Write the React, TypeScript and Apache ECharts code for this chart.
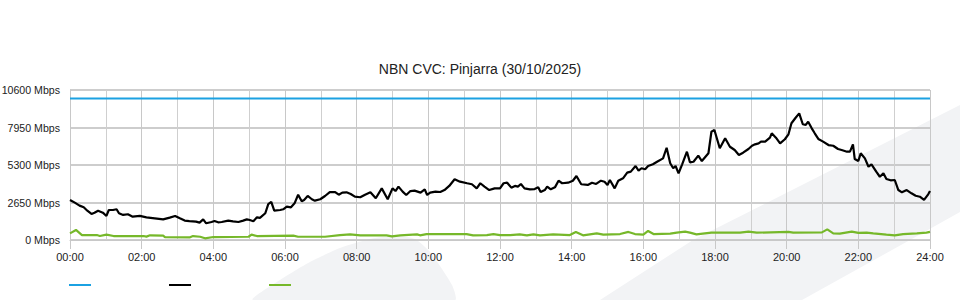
import React, { useEffect, useRef } from "react";
import * as echarts from "echarts";

const chartTitle = "NBN CVC: Pinjarra (30/10/2025)";
const yTicks = [0, 2650, 5300, 7950, 10600];
const capacityMinutes = [0, 1440];
const capacityMbps = [10000, 10000];

const dlMinutes = [0,8,16,23,29,36,41,47,55,61,65,72,78,82,89,97,105,117,128,142,156,167,176,184,192,200,211,217,223,228,237,242,248,254,265,273,282,290,296,301,307,313,318,327,332,337,342,352,357,363,370,376,382,388,392,398,405,410,419,427,435,444,450,456,463,470,477,486,494,503,512,522,532,540,545,550,557,563,570,577,587,594,598,603,612,620,627,635,644,653,665,673,681,687,694,702,711,720,726,732,739,745,750,755,761,770,778,784,788,795,799,805,812,818,824,834,842,848,856,867,874,881,889,895,900,904,912,918,926,933,939,947,952,957,963,968,976,983,993,999,1005,1010,1014,1019,1025,1033,1038,1044,1052,1058,1069,1074,1079,1088,1097,1105,1113,1120,1127,1136,1142,1147,1153,1157,1164,1172,1175,1182,1189,1197,1203,1208,1215,1221,1227,1232,1236,1242,1247,1253,1261,1270,1278,1286,1292,1301,1306,1311,1314,1320,1324,1331,1337,1342,1350,1356,1362,1367,1374,1381,1387,1393,1401,1409,1416,1423,1430,1437,1440];
const dlMbps = [2830,2640,2430,2310,2070,1840,1930,2070,1930,1700,2120,2120,2170,1890,1770,1820,1650,1700,1600,1530,1460,1580,1700,1530,1370,1340,1300,1230,1460,1180,1270,1340,1250,1270,1370,1320,1270,1370,1460,1410,1320,1600,1560,1890,2540,2690,2070,2120,2170,2360,2310,2590,3200,2740,2830,3110,2880,2780,2880,3110,3390,3390,3200,3350,3370,3250,3060,3020,3200,3370,2950,3650,2880,3650,3460,3770,3420,3180,3460,3490,3350,3580,3180,3350,3420,3390,3530,3820,4290,4120,4010,3940,3650,4010,3770,3530,3650,3650,4010,4050,3700,3820,3770,3960,3650,3580,3600,3720,3390,3530,3770,3580,3720,4190,4010,4050,4190,4520,3940,3890,4050,3960,4190,4120,3890,4240,3650,4190,4360,4760,4830,5230,4900,5070,5000,5230,5350,5530,5770,6520,5420,5070,5230,4710,5350,6240,5490,5530,5960,5580,6130,7650,7770,6480,7190,6590,6360,6010,6170,6430,6660,6760,6830,6950,6950,7230,7540,7230,6830,7120,7470,8250,8640,8950,8180,8130,8360,7890,7540,7140,6950,6710,6660,6430,6360,6240,6240,6760,5720,5580,6130,5770,5180,5350,4830,4470,4710,4310,4220,4240,3530,3370,3530,3300,3130,3060,2830,3230,3460];

const ulMinutes = [0,10,20,45,50,61,73,123,128,134,156,159,201,206,218,226,240,299,304,313,374,382,427,452,469,486,530,539,553,581,586,597,636,664,675,698,709,720,737,753,765,776,787,809,837,847,859,882,893,921,935,946,960,968,977,1005,1016,1030,1038,1049,1063,1074,1122,1136,1150,1203,1211,1259,1268,1278,1289,1309,1320,1334,1345,1367,1381,1395,1418,1434,1440];
const ulMbps = [470,710,350,350,280,380,280,280,240,330,310,210,190,280,230,120,210,230,380,280,310,230,230,350,400,330,330,260,330,400,330,420,420,420,330,350,420,350,350,400,330,400,330,400,350,570,330,470,380,420,570,420,380,640,420,450,520,590,520,400,470,520,520,590,520,570,520,540,750,470,450,590,500,520,470,380,330,420,470,520,570];

const seriesColors = ["#1ba1e2", "#000000", "#76b82a"];
const FONT = "'Liberation Sans', Arial, Helvetica, sans-serif";

const pairs = (xs: number[], ys: number[]) => xs.map((x, i) => [x, ys[i]]);

export default function App() {
  const ref = useRef<HTMLDivElement>(null);
  useEffect(() => {
    if (!ref.current) return;
    const chart = echarts.init(ref.current, null, { renderer: "svg" });
    const wm = "#f2f3f5";
    chart.setOption({
      animation: false,
      backgroundColor: "#ffffff",
      textStyle: { fontFamily: FONT },
      title: {
        text: chartTitle,
        left: "center",
        top: 57,
        textStyle: { fontSize: 14, fontWeight: "normal", color: "#222", fontFamily: FONT },
      },
      grid: { left: 70, right: 30, top: 90, bottom: 60, containLabel: false, outerBoundsMode: "none" },
      xAxis: {
        type: "value",
        min: 0,
        max: 1440,
        interval: 120,
        axisLine: { show: true, lineStyle: { color: "#c8c8c8", width: 1 } },
        axisTick: { show: true, length: 9, lineStyle: { color: "#c8c8c8" } },
        axisLabel: {
          color: "#222",
          fontSize: 11,
          margin: 11,
          fontFamily: FONT,
          formatter: (v: number) => String(Math.round(v / 60)).padStart(2, "0") + ":00",
        },
        splitLine: { show: true, lineStyle: { color: "#c8c8c8", width: 1 } },
        minorTick: { show: false, splitNumber: 2 },
        minorSplitLine: { show: true, lineStyle: { color: "#cfcfcf", width: 1 } },
      },
      yAxis: {
        type: "value",
        min: yTicks[0],
        max: yTicks[yTicks.length - 1],
        interval: yTicks[1] - yTicks[0],
        axisLine: { show: true, lineStyle: { color: "#c8c8c8" } },
        axisTick: { show: false },
        axisLabel: {
          color: "#222",
          fontSize: 10.6,
          margin: 10,
          padding: [0, 0, 3, 0],
          fontFamily: FONT,
          formatter: (v: number) => String(v) + " Mbps",
        },
        splitLine: { show: true, lineStyle: { color: "#bdbdbd", width: 1.5 } },
      },
      graphic: [
        {
          type: "polygon",
          z: -10,
          silent: true,
          shape: { points: [[600, 300], [693, 240], [800, 186], [960, 105], [960, 212], [910, 240], [802, 300]] },
          style: { fill: wm },
        },
        {
          type: "polygon",
          z: -10,
          silent: true,
          shape: {
            points: [[253, 300], [280, 280], [310, 262], [340, 248], [370, 239], [395, 236], [415, 239], [430, 252], [452, 285], [455, 300]],
            smooth: 0.2,
          },
          style: { fill: wm },
        },
        { type: "rect", shape: { x: 69, y: 284, width: 22, height: 2 }, style: { fill: seriesColors[0] } },
        { type: "rect", shape: { x: 169, y: 284, width: 22, height: 2 }, style: { fill: seriesColors[1] } },
        { type: "rect", shape: { x: 269, y: 284, width: 22, height: 2 }, style: { fill: seriesColors[2] } },
      ],
      series: [
        {
          name: "Capacity",
          type: "line",
          data: pairs(capacityMinutes, capacityMbps),
          showSymbol: false,
          lineStyle: { color: seriesColors[0], width: 2 },
          itemStyle: { color: seriesColors[0] },
        },
        {
          name: "Download",
          type: "line",
          data: pairs(dlMinutes, dlMbps),
          showSymbol: false,
          lineStyle: { color: seriesColors[1], width: 2.2 },
          itemStyle: { color: seriesColors[1] },
        },
        {
          name: "Upload",
          type: "line",
          data: pairs(ulMinutes, ulMbps),
          showSymbol: false,
          lineStyle: { color: seriesColors[2], width: 2.2 },
          itemStyle: { color: seriesColors[2] },
        },
      ],
    });
    return () => chart.dispose();
  }, []);
  return (
    <div
      ref={ref}
      style={{ position: "absolute", left: 0, top: 0, width: 960, height: 300 }}
    />
  );
}
